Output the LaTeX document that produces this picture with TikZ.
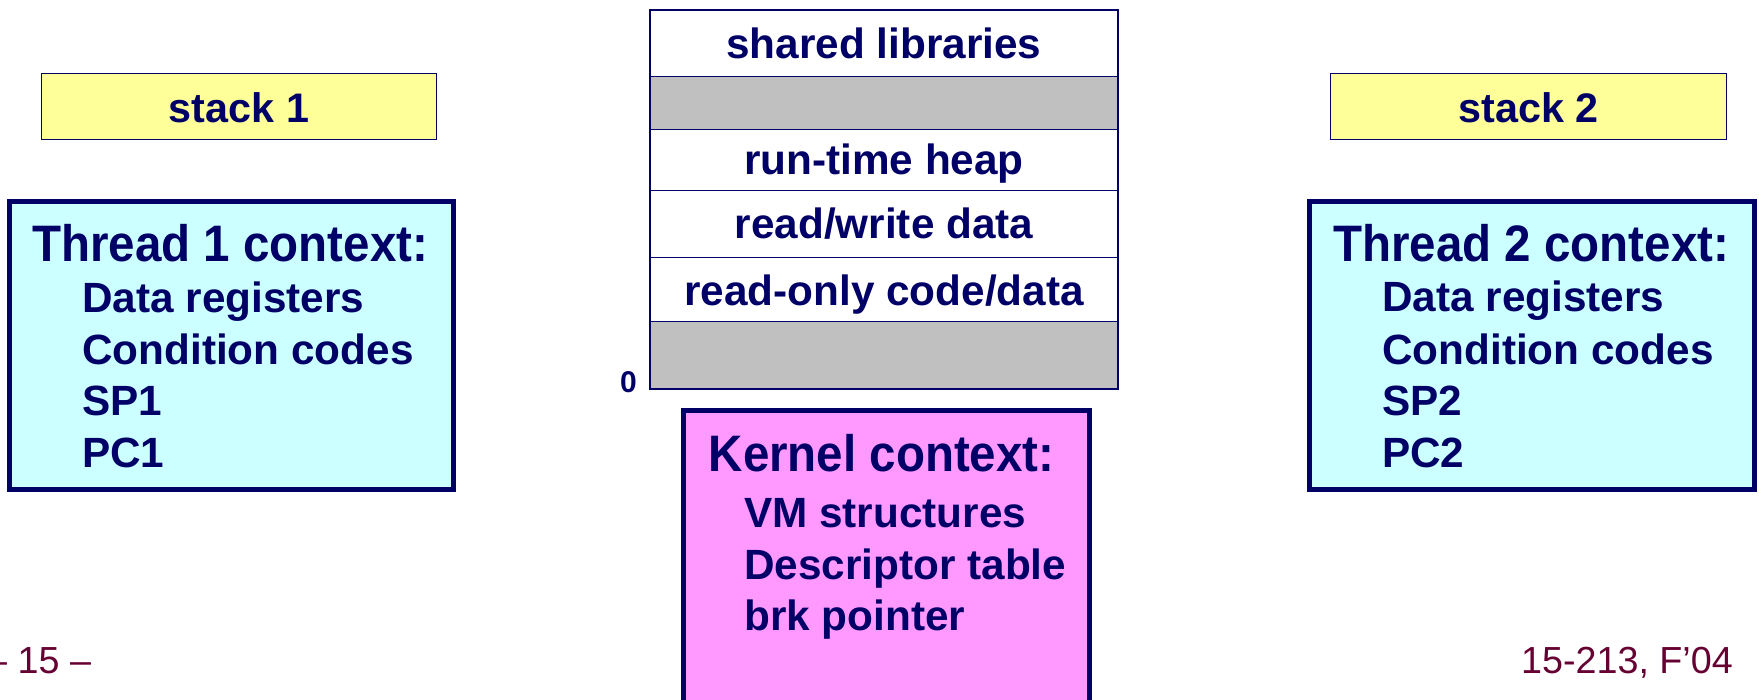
\documentclass[tikz,border=0pt]{standalone}
\usepackage{fontspec}
\setmainfont{Liberation Sans}
\definecolor{navy}{RGB}{0,0,102}
\definecolor{stackyellow}{RGB}{255,255,153}
\definecolor{ctxcyan}{RGB}{204,255,255}
\definecolor{kpink}{RGB}{255,153,255}
\definecolor{memgray}{RGB}{192,192,192}
\definecolor{footred}{RGB}{102,0,51}
\newcommand{\myfs}[1]{\fontsize{#1}{#1}\selectfont}
\newcommand{\tall}[1]{\scalebox{1}[1.08]{#1}}
\begin{document}
\begin{tikzpicture}[x=1pt,y=-1pt,
  box/.style={rectangle, draw=navy, inner sep=0pt, outer sep=0pt, anchor=north west},
  stackbox/.style={box, fill=stackyellow, line width=1.2pt},
  ctxbox/.style={box, fill=ctxcyan, line width=5pt},
  kbox/.style={box, fill=kpink, line width=5pt},
  memseg/.style={box, fill=white, line width=1.5pt, minimum width=468pt},
  memgap/.style={memseg, fill=memgray},
  title/.style={anchor=base west, inner sep=0pt, text=navy, font=\bfseries\myfs{47.5}},
  item/.style={anchor=base west, inner sep=0pt, text=navy, font=\bfseries\myfs{42.3}},
  memtxt/.style={anchor=base, inner sep=0pt, text=navy, font=\bfseries\myfs{42.3}},
  stacktxt/.style={anchor=base, inner sep=0pt, text=navy, font=\bfseries\myfs{41.3}},
  foot/.style={inner sep=0pt, text=footred, font=\myfs{37.7}}
]
\useasboundingbox (0,0) rectangle (1759,700);
\clip (0,0) rectangle (1759,700);

% stacks
\node[stackbox, minimum width=395pt, minimum height=66pt] (stack1) at (41.5,73.5) {};
\node[stacktxt] (stack1t) at (239,123) {stack 1};
\node[stackbox, minimum width=396pt, minimum height=66pt] (stack2) at (1330.5,73.5) {};
\node[stacktxt] (stack2t) at (1528.5,123) {stack 2};

% thread 1 context
\node[ctxbox, minimum width=444pt, minimum height=288pt] (ctx1) at (9.5,201.5) {};
\node[title] (ctx1t) at (32,262) {\tall{Thread 1 context:}};
\node[item] (ctx1a) at (82,313) {Data registers};
\node[item] (ctx1b) at (82,364.5) {Condition codes};
\node[item] (ctx1c) at (82,416) {SP1};
\node[item] (ctx1d) at (82,467) {PC1};

% thread 2 context
\node[ctxbox, minimum width=445pt, minimum height=288pt] (ctx2) at (1309.5,201.5) {};
\node[title] (ctx2t) at (1333,261.5) {\tall{Thread 2 context:}};
\node[item] (ctx2a) at (1382,312) {Data registers};
\node[item] (ctx2b) at (1382,364.5) {Condition codes};
\node[item] (ctx2c) at (1382,416) {SP2};
\node[item] (ctx2d) at (1382,467) {PC2};

% memory image
\node[memseg, minimum height=66.3pt] (seg1) at (650,10) {};
\node[memgap, minimum height=53.4pt] (seg2) at (650,76.3) {};
\node[memseg, minimum height=61pt] (seg3) at (650,129.7) {};
\node[memseg, minimum height=67pt] (seg4) at (650,190.7) {};
\node[memseg, minimum height=64pt] (seg5) at (650,257.7) {};
\node[memgap, minimum height=67.3pt] (seg6) at (650,321.7) {};
\node[memtxt] (seg1t) at (884,59) {shared libraries};
\node[memtxt] (seg3t) at (884,175) {run-time heap};
\node[memtxt] (seg4t) at (884,239) {read/write data};
\node[memtxt] (seg5t) at (884,306) {read-only code/data};
\node[anchor=base east, inner sep=0pt, text=navy, font=\bfseries\myfs{30}] (zero) at (637,393) {0};

% kernel context
\node[kbox, minimum width=406pt, minimum height=400pt] (kctx) at (683.5,410.5) {};
\node[title] (kctxt) at (708.5,471.5) {\tall{Kernel context:}};
\node[item] (kctxa) at (744,527) {VM structures};
\node[item] (kctxb) at (744,579.5) {Descriptor table};
\node[item] (kctxc) at (744,630) {brk pointer};

% footer
\node[foot, anchor=base west] (pagenum) at (-14,673) {– 15 –};
\node[foot, anchor=base east] (course) at (1733,673) {15-213, F’04};
\end{tikzpicture}
\end{document}
